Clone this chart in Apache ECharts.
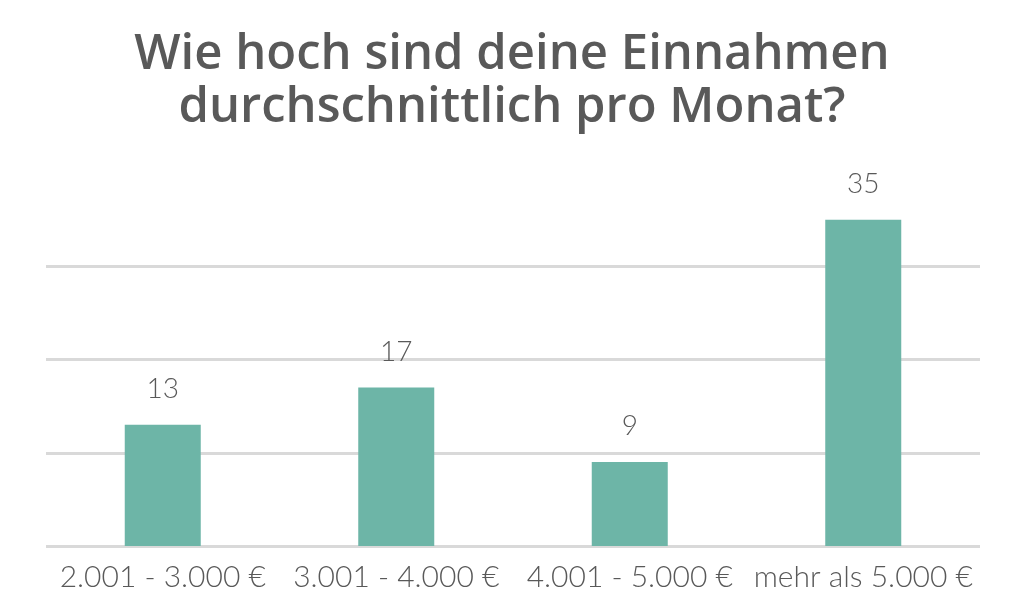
<!DOCTYPE html>
<html><head><meta charset="utf-8">
<script src="https://cdn.jsdelivr.net/npm/echarts@6/dist/echarts.min.js"></script>
<style>html,body{margin:0;padding:0;background:#fff}#c{width:1024px;height:614px}</style>
</head><body><div id="c"></div>
<script>
var categories = ['2.001 - 3.000 €', '3.001 - 4.000 €', '4.001 - 5.000 €', 'mehr als 5.000 €'];
var values = [13, 17, 9, 35];
var titleText = 'Wie hoch sind deine Einnahmen\ndurchschnittlich pro Monat?';

var chart = echarts.init(document.getElementById('c'));
chart.setOption({
  animation: false,
  backgroundColor: '#fff',
  title: {
    text: titleText,
    left: 'center',
    top: 24,
    textStyle: { fontFamily: 'Open Sans', fontSize: 49, fontWeight: 600, color: '#595959', lineHeight: 53 }
  },
  grid: { left: 46, right: 44, top: 173, bottom: 68 },
  xAxis: {
    type: 'category',
    data: categories,
    axisLine: { show: false },
    axisTick: { show: false },
    axisLabel: { fontFamily: 'Lato', fontSize: 30, fontWeight: 300, color: '#595959', margin: 16, interval: 0 }
  },
  yAxis: {
    type: 'value',
    min: 0, max: 40, interval: 10,
    axisLabel: { show: false },
    axisLine: { show: false },
    axisTick: { show: false },
    splitLine: { show: true, showMaxLine: false, lineStyle: { color: '#d9d9d9', width: 3 } }
  },
  series: [{
    type: 'bar',
    data: values,
    barWidth: 76,
    itemStyle: { color: '#6db5a7' },
    label: { show: true, position: 'top', distance: 22, fontFamily: 'Lato', fontSize: 28, fontWeight: 300, color: '#595959' }
  }]
});
</script></body></html>
